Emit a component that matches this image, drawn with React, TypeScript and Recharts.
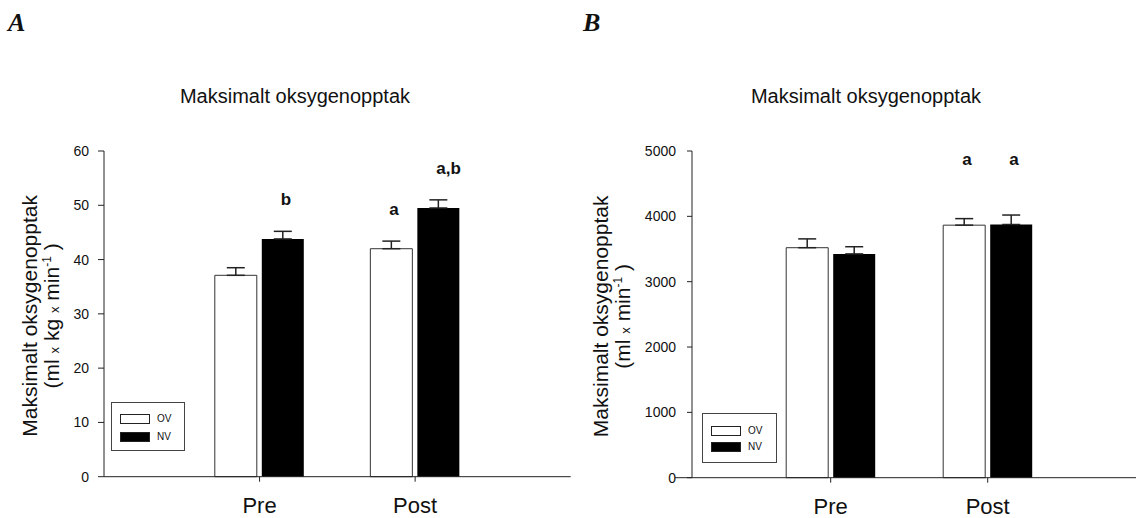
import { BarChart, Bar, XAxis, YAxis, ErrorBar, LabelList, Legend, ReferenceLine } from 'recharts';

const FONT = 'Arial, "Liberation Sans", sans-serif';

const phases = ['Pre', 'Post'];
const seriesNames = ['OV', 'NV'];

// A: relative VO2max (ml/kg/min)
const ovRelative = [37.1, 42.0];
const ovRelativeSem = [1.4, 1.4];
const nvRelative = [43.8, 49.5];
const nvRelativeSem = [1.4, 1.5];
const ovRelativeSig = ['', 'a'];
const nvRelativeSig = ['b', 'a,b'];
const ticksRelative = [0, 10, 20, 30, 40, 50, 60];

// B: absolute VO2max (ml/min)
const ovAbsolute = [3520, 3865];
const ovAbsoluteSem = [135, 100];
const nvAbsolute = [3425, 3875];
const nvAbsoluteSem = [110, 145];
const ovAbsoluteSig = ['', 'a'];
const nvAbsoluteSig = ['', 'a'];
const ticksAbsolute = [0, 1000, 2000, 3000, 4000, 5000];

const FILLS: Record<string, string> = { OV: '#ffffff', NV: '#000000' };

function buildRows(
  ov: number[], ovSem: number[], ovSig: string[],
  nv: number[], nvSem: number[], nvSig: string[]
) {
  return phases.map((phase, i) => ({
    phase,
    ov: ov[i],
    ovErr: [0, ovSem[i]],
    ovSig: ovSig[i],
    nv: nv[i],
    nvErr: [0, nvSem[i]],
    nvSig: nvSig[i],
  }));
}

const rowsRelative = buildRows(ovRelative, ovRelativeSem, ovRelativeSig, nvRelative, nvRelativeSem, nvRelativeSig);
const rowsAbsolute = buildRows(ovAbsolute, ovAbsoluteSem, ovAbsoluteSig, nvAbsolute, nvAbsoluteSem, nvAbsoluteSig);

// significance letters: either a fixed gap above the error cap, or at a fixed data level
function sigLabel(values: number[], sem: number[], level?: number) {
  return (props: any) => {
    const vb = props.viewBox ?? props;
    const x = Number(vb.x);
    const y = Number(vb.y);
    const width = Number(vb.width);
    const height = Number(vb.height);
    const index = props.index ?? 0;
    const letter = props.value;
    if (!letter) return null;
    const pxPerUnit = height / values[index];
    const baseY = level != null
      ? y - (level - values[index]) * pxPerUnit
      : y - sem[index] * pxPerUnit - 26;
    return (
      <text x={x + width / 2 - 2} y={baseY} textAnchor="start" fontFamily={FONT}
        fontSize={17} fontWeight="bold" fill="#111">
        {letter}
      </text>
    );
  };
}

function LegendBox({ payload, rowGap, padTop }: any) {
  // keep the series order (OV above NV)
  const items = [...(payload ?? [])].sort(
    (a: any, b: any) => seriesNames.indexOf(a.value) - seriesNames.indexOf(b.value)
  );
  return (
    <div style={{
      border: '1px solid #444', boxSizing: 'border-box', background: '#fff',
      width: '100%', height: '100%', paddingTop: padTop, paddingLeft: 8, fontFamily: FONT,
    }}>
      {items.map((entry: any) => (
        <div key={entry.value} style={{ display: 'flex', alignItems: 'center', height: rowGap }}>
          <span style={{
            display: 'inline-block', width: 30, height: 10, boxSizing: 'border-box',
            border: '1px solid #222', background: FILLS[entry.value] ?? '#000',
          }} />
          <span style={{ marginLeft: 7, fontSize: 10, color: '#111', lineHeight: '10px' }}>{entry.value}</span>
        </div>
      ))}
    </div>
  );
}

function yTitle(line2: (string | { sup?: string; small?: string })[], offset1: number, offset2: number) {
  return (props: any) => {
    const vb = props.viewBox;
    const plotLeft = vb.x + vb.width;
    const cy = vb.y + vb.height / 2 + 2;
    const x1 = plotLeft - offset1;
    const x2 = plotLeft - offset2;
    return (
      <g fontFamily={FONT} fill="#111">
        <text x={x1} y={cy} textAnchor="middle" fontSize={21} transform={`rotate(-90, ${x1}, ${cy})`}>
          Maksimalt oksygenopptak
        </text>
        <text x={x2} y={cy} textAnchor="middle" fontSize={21} transform={`rotate(-90, ${x2}, ${cy})`}>
          {line2.map((part, i) => {
            if (typeof part === 'string') return <tspan key={i}>{part}</tspan>;
            if (part.small) return <tspan key={i} fontSize={13}>{part.small}</tspan>;
            return (
              <tspan key={i}>
                <tspan fontSize={12} dy={-8}>{part.sup}</tspan>
                <tspan dy={8}>{' '}</tspan>
              </tspan>
            );
          })}
        </text>
      </g>
    );
  };
}

const axisStroke = '#222';

function PanelA() {
  return (
    <BarChart width={590} height={518} data={rowsRelative} barSize={42} barGap={5}
      margin={{ top: 151, right: 19.3, bottom: 11.3, left: 44 }}>
      <XAxis dataKey="phase" padding={{ left: 77.8, right: 77.8 }} height={30}
        stroke={axisStroke} tickSize={5} tickMargin={16}
        tick={{ fontSize: 22, fill: '#111', fontFamily: FONT }} />
      <YAxis width={60} domain={[0, 60]} ticks={ticksRelative} stroke={axisStroke}
        tickSize={6} tickMargin={9} interval={0}
        tick={{ fontSize: 14, fill: '#111', fontFamily: FONT }}
        label={{ content: yTitle(['(ml ', { small: 'x' }, ' kg ', { small: 'x' }, ' min', { sup: '-1' }, ')'], 67, 45) }} />
      <Legend layout="vertical" align="center" verticalAlign="middle"
        wrapperStyle={{ left: 111, top: 401.7, width: 74, height: 49 }}
        content={(p: any) => <LegendBox payload={p.payload} rowGap={18.5} padTop={7} />} />
      <Bar dataKey="ov" name={seriesNames[0]} fill={FILLS.OV} stroke="#333" strokeWidth={1} isAnimationActive={false}>
        <ErrorBar dataKey="ovErr" direction="y" width={9} stroke="#222" strokeWidth={1.5} />
        <LabelList dataKey="ovSig" content={sigLabel(ovRelative, ovRelativeSem)} />
      </Bar>
      <Bar dataKey="nv" name={seriesNames[1]} fill={FILLS.NV} isAnimationActive={false}>
        <ErrorBar dataKey="nvErr" direction="y" width={9} stroke="#222" strokeWidth={1.5} />
        <LabelList dataKey="nvSig" content={sigLabel(nvRelative, nvRelativeSem)} />
      </Bar>
    </BarChart>
  );
}

function PanelB() {
  return (
    <BarChart width={556} height={518} data={rowsAbsolute} barSize={42} barGap={5}
      margin={{ top: 151, right: 0, bottom: 10.3, left: 52 }}>
      <XAxis dataKey="phase" padding={{ left: 60.2, right: 69.8 }} height={30}
        axisLine={false} stroke={axisStroke} tickSize={5} tickMargin={16}
        tick={{ fontSize: 22, fill: '#111', fontFamily: FONT }} />
      <YAxis width={60} domain={[0, 5000]} ticks={ticksAbsolute} stroke={axisStroke}
        tickSize={5} tickMargin={11} interval={0}
        tick={{ fontSize: 14, fill: '#111', fontFamily: FONT }}
        label={{ content: yTitle(['(ml ', { small: 'x' }, ' min', { sup: '-1' }, ')'], 84, 62) }} />
      <Legend layout="vertical" align="center" verticalAlign="middle"
        wrapperStyle={{ left: 122, top: 413, width: 75, height: 50 }}
        content={(p: any) => <LegendBox payload={p.payload} rowGap={16} padTop={9} />} />
      <Bar dataKey="ov" name={seriesNames[0]} fill={FILLS.OV} stroke="#333" strokeWidth={1} isAnimationActive={false}>
        <ErrorBar dataKey="ovErr" direction="y" width={9} stroke="#222" strokeWidth={1.5} />
        <LabelList dataKey="ovSig" content={sigLabel(ovAbsolute, ovAbsoluteSem, 4780)} />
      </Bar>
      <Bar dataKey="nv" name={seriesNames[1]} fill={FILLS.NV} isAnimationActive={false}>
        <ErrorBar dataKey="nvErr" direction="y" width={9} stroke="#222" strokeWidth={1.5} />
        <LabelList dataKey="nvSig" content={sigLabel(nvAbsolute, nvAbsoluteSem, 4780)} />
      </Bar>
      {/* x axis runs a little past the y axis on this panel */}
      <ReferenceLine y={0} ifOverflow="visible"
        shape={(p: any) => <line x1={p.x1 - 17} y1={p.y1} x2={p.x2} y2={p.y2} stroke={axisStroke} strokeWidth={1} />} />
    </BarChart>
  );
}

const panelLetter: React.CSSProperties = {
  position: 'absolute', top: 10, fontFamily: '"Liberation Serif", "Times New Roman", serif',
  fontWeight: 'bold', fontStyle: 'italic', fontSize: 26, lineHeight: '26px', color: '#111',
};

const titleStyle: React.CSSProperties = {
  position: 'absolute', top: 86, width: 300, textAlign: 'center', fontFamily: FONT,
  fontSize: 20, lineHeight: '20px', color: '#111',
};

export default function App() {
  return (
    <div style={{ position: 'absolute', left: 0, top: 0, width: 1136, height: 518, background: '#fff', overflow: 'hidden' }}>
      <div style={{ ...panelLetter, left: 8 }}>A</div>
      <div style={{ ...panelLetter, left: 583 }}>B</div>
      <div style={{ ...titleStyle, left: 295 - 150 }}>Maksimalt oksygenopptak</div>
      <div style={{ ...titleStyle, left: 866 - 150 }}>Maksimalt oksygenopptak</div>
      <div style={{ position: 'absolute', left: 0, top: 0 }}>
        <PanelA />
      </div>
      <div style={{ position: 'absolute', left: 580, top: 0 }}>
        <PanelB />
      </div>
    </div>
  );
}
